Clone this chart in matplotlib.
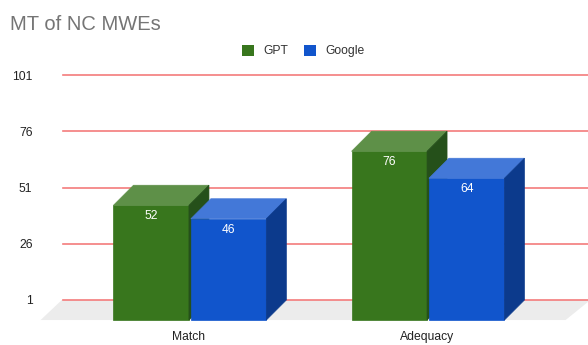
import numpy as np
import matplotlib
matplotlib.use("Agg")
import matplotlib.pyplot as plt
from matplotlib.patches import Polygon, Patch

plt.rcParams["font.family"] = ["Liberation Sans", "DejaVu Sans"]

categories = ["Match", "Adequacy"]
series = ["GPT", "Google"]
gpt = [52, 76]
google = [46, 64]
yticks = [1, 26, 51, 76, 101]

# front / top / side shades per series
shades = {
    "GPT": ("#38761d", "#5e9048", "#25501a"),
    "Google": ("#1155cc", "#4378d8", "#0c3a8c"),
}

fig = plt.figure(figsize=(5.88, 3.45), dpi=100)
ax = fig.add_axes([63 / 588, 45 / 345, 525 / 588, 225 / 345])
ax.set_xlim(-0.529, 1.676)
ax.set_ylim(1, 101)
for s in ax.spines.values():
    s.set_visible(False)
ax.set_xticks([])
ax.set_yticks(yticks)
ax.tick_params(axis="y", length=0, pad=22, labelsize=8.7, labelcolor="#222222")
for t in yticks:
    ax.axhline(t, color="#f47c7c", lw=1.2, clip_on=False, zorder=2)

base = yticks[0]
dx, dy = 0.084, 8.9      # depth offset of the 3d look (x units, value units)
w = 0.317

# floor
floor = Polygon([(-0.529 - dx - 0.01, base - dy), (1.676 - dx - 0.01, base - dy),
                 (1.676 + 0.01, base), (-0.529 - 0.005, base)],
                closed=True, fc="#ececec", ec="none", clip_on=False, zorder=1)
ax.add_patch(floor)

for i, cat in enumerate(categories):
    for j, (name, vals) in enumerate([("GPT", gpt), ("Google", google)]):
        v = vals[i]
        xl = i - w + j * (w + 0.008)
        xr = xl + w
        front, top, side = shades[name]
        ax.add_patch(Polygon([(xl, base - dy), (xr, base - dy), (xr, v - dy), (xl, v - dy)],
                             fc=front, ec=front, lw=0.5, clip_on=False, zorder=3))
        ax.add_patch(Polygon([(xl, v - dy), (xr, v - dy), (xr + dx, v), (xl + dx, v)],
                             fc=top, ec=top, lw=0.5, clip_on=False, zorder=3))
        ax.add_patch(Polygon([(xr, base - dy), (xr + dx, base), (xr + dx, v), (xr, v - dy)],
                             fc=side, ec=side, lw=0.5, clip_on=False, zorder=3))
        ax.text((xl + xr) / 2, v - dy - 4.9, str(v), color="white", fontsize=8.7,
                ha="center", va="center", zorder=4)
    ax.text(i, base - dy - 7.6, cat, fontsize=8.7, color="#222222",
            ha="center", va="center", clip_on=False)

fig.text(10 / 588, 1 - 25 / 345, "MT of NC MWEs", fontsize=14.5, color="#757575",
         ha="left", va="center")

handles = [Patch(fc=shades[s][0], ec="none") for s in series]
leg = fig.legend(handles, series, loc="center", bbox_to_anchor=(0.516, 1 - 51 / 345), ncol=2,
                 frameon=False, fontsize=8.7, handlelength=1.0, handleheight=1.0,
                 handletextpad=0.75, columnspacing=1.3)
for t in leg.get_texts():
    t.set_color("#333333")

fig.savefig("out.png", dpi=100, facecolor="white")
